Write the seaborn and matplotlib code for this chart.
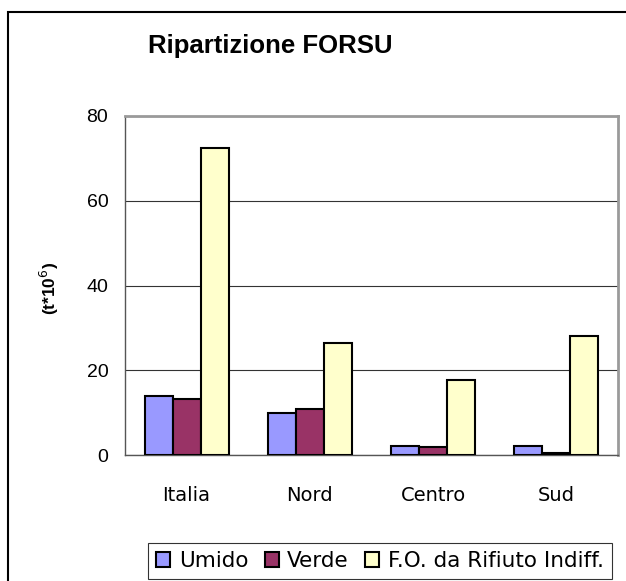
import pandas as pd
import matplotlib.pyplot as plt
import seaborn as sns
from matplotlib.patches import Rectangle

regioni = ['Italia', 'Nord', 'Centro', 'Sud']
umido = [14.0, 10.0, 2.2, 2.2]
verde = [13.1, 10.9, 1.9, 0.5]
fo_indiff = [72.5, 26.4, 17.8, 28.2]
serie = ['Umido', 'Verde', 'F.O. da Rifiuto Indiff.']
colori = ['#9999FF', '#993366', '#FFFFCC']

df = pd.DataFrame({
    'regione': regioni * 3,
    'valore': umido + verde + fo_indiff,
    'serie': [s for s in serie for _ in regioni],
})

sns.set_style('white')
plt.rcParams['font.family'] = ['Liberation Sans', 'DejaVu Sans']
plt.rcParams['text.color'] = 'black'
plt.rcParams['axes.labelcolor'] = 'black'
plt.rcParams['xtick.color'] = 'black'
plt.rcParams['ytick.color'] = 'black'

fig = plt.figure(figsize=(6.26, 5.81), dpi=100)
ax = fig.add_axes([125 / 626, 1 - 455 / 581, 493 / 626, 339 / 581])

sns.barplot(data=df, x='regione', y='valore', hue='serie', palette=colori,
            width=0.68, gap=0, edgecolor='black', linewidth=1.5,
            saturation=1, ax=ax, zorder=3)

ax.set_ylim(0, 80)
ax.set_xlim(-0.5, 3.5)
ax.set_yticks([0, 20, 40, 60, 80])
ax.yaxis.grid(True, color='#333333', linewidth=0.8, zorder=0)
ax.set_xlabel('')
ax.set_ylabel('(t*10$^6$)', fontsize=12.5, fontweight='bold')
ax.yaxis.set_label_coords(-0.13, 0.49)
ax.tick_params(axis='y', labelsize=14, length=4, width=0.8, color='#555555', pad=8)
ax.tick_params(axis='x', which='major', labelsize=14, length=0, pad=22)
for t in ax.get_xticklabels():
    t.set_fontfamily('DejaVu Sans')
ax.set_xticks([-0.5, 0.5, 1.5, 2.5, 3.5], minor=True)
ax.tick_params(axis='x', which='minor', length=8, width=0.8, color='#555555')

for side in ['left', 'bottom']:
    ax.spines[side].set_color('#555555')
    ax.spines[side].set_linewidth(1.0)
for side in ['top', 'right']:
    ax.spines[side].set_color('#9a9a9a')
    ax.spines[side].set_linewidth(2.0)

ax.legend_.remove()
handles, labels = ax.get_legend_handles_labels()
leg = fig.legend(handles, labels, loc='center', ncol=3,
                 bbox_to_anchor=(380 / 626, 1 - 561 / 581),
                 prop={'family': 'DejaVu Sans', 'size': 15.5},
                 frameon=True, fancybox=False,
                 edgecolor='black', handlelength=0.65, handleheight=0.65,
                 handletextpad=0.4, columnspacing=0.75, borderpad=0.38)
leg.get_frame().set_linewidth(0.8)

fig.text(270 / 626, 1 - 46 / 581, 'Ripartizione FORSU', ha='center', va='center',
         fontsize=18.5, fontweight='bold')

fig.patches.append(Rectangle((8 / 626, -0.1), 1.2, 1 - 12 / 581 + 0.1,
                             transform=fig.transFigure, fill=False,
                             edgecolor='black', linewidth=1.5))

fig.savefig('out.png', dpi=100)
